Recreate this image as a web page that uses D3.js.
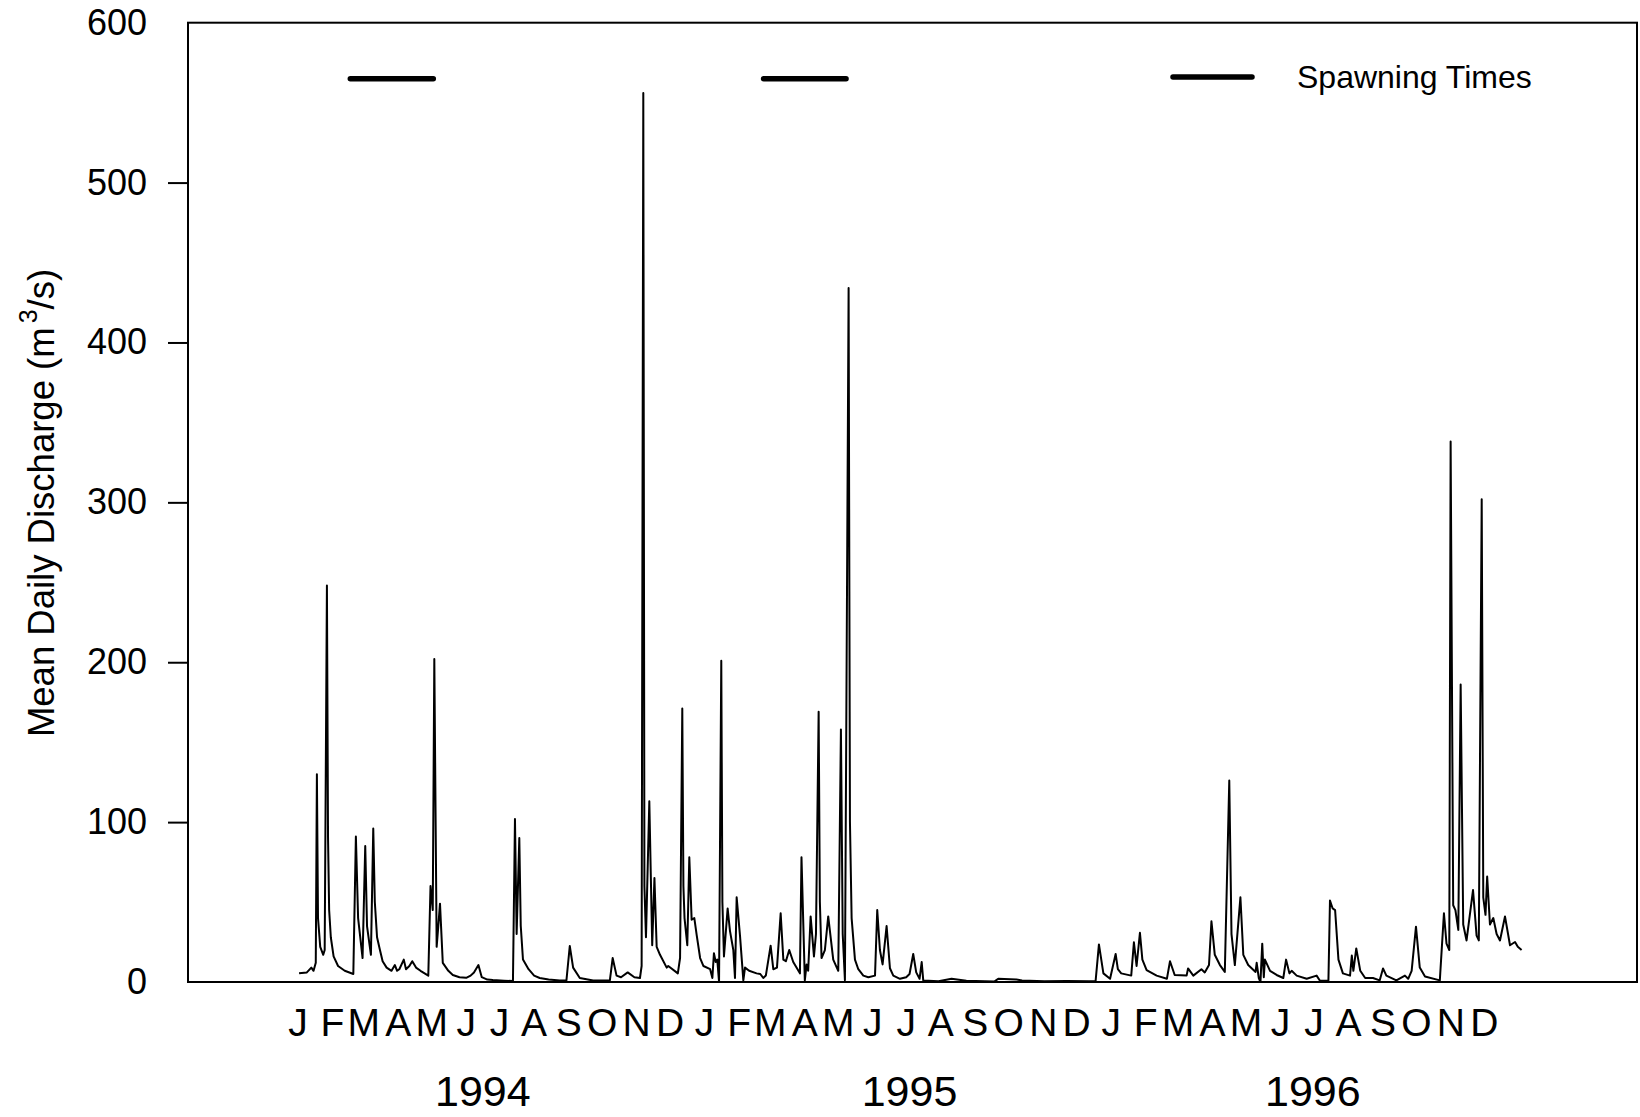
<!DOCTYPE html>
<html>
<head>
<meta charset="utf-8">
<script src="https://cdn.jsdelivr.net/npm/d3@7"></script>
<style>
  body { margin: 0; background: #fff; }
</style>
</head>
<body>
<div id="canvas"></div>
<script>
"use strict"

/* mean daily discharge, [day of year, m3/s] */
let flow1994 = [
  [1, 5.4], [8, 6], [12, 9], [14, 7], [16, 12], [17, 130], [18, 40], [20, 22], [22.7, 17],
  [24, 20], [26, 248], [27, 90], [28, 45], [29.5, 28], [32, 16], [36, 10], [42, 7], [49.7, 5],
  [52, 91], [54, 40], [58, 15], [60.4, 85], [62, 35], [65.5, 17], [67.6, 96], [69, 50],
  [71, 28], [73.6, 20], [76, 13], [79.6, 9], [84, 7], [87, 10.6], [89, 7], [91, 8], [95, 14],
  [97, 8], [100, 10], [102.6, 13], [106, 9], [110, 7], [117, 4], [119, 60], [121, 45],
  [122.4, 202], [124.5, 22], [126, 35], [127.5, 49], [130, 12], [135, 7], [139, 4.4], [145, 3],
  [151, 2.6], [155, 4], [158, 6], [162, 10.6], [165, 3], [170, 1.5], [175, 1.2], [185, 0.8],
  [193, 0.6], [194.8, 102], [196.3, 30], [197.5, 60], [198.7, 90], [200, 35], [202, 14],
  [207, 8], [212, 4], [217, 2.5], [225, 1.5], [235, 1], [241, 1], [244, 22.5], [247, 9],
  [253, 2.5], [265, 1], [280, 1], [282.5, 15], [286, 4], [290, 3], [296, 6], [302, 3],
  [307, 2.5], [308.5, 10], [310, 556], [311, 60], [312.4, 28], [315.4, 113], [318, 23],
  [320, 65], [322, 22], [325, 17], [331, 9], [332.4, 10], [341, 5.4], [343, 15], [345, 171],
  [346, 60], [347, 40], [349.5, 23], [351.3, 78], [353.4, 39], [355.8, 40], [358, 29],
  [361, 15], [364, 10]
];

let flow1995 = [
  [5, 8], [7, 2.5], [8.4, 18], [10, 12.5], [11.4, 14], [13, 0], [15, 201], [16, 50],
  [17.4, 16], [20.7, 46], [22.8, 32], [25.8, 20], [27.3, 2.5], [28.8, 53], [31.8, 29],
  [34.8, 1], [36.3, 9], [40, 7], [46.7, 5.4], [50, 5], [52.7, 2.5], [55, 4], [59.3, 22.7],
  [61.7, 8], [65, 9], [68.3, 43], [70.7, 14], [73, 13], [76, 20], [79.6, 12.5], [85.6, 5.4],
  [87, 78], [90, 1], [91.6, 11], [93, 7], [95.2, 41], [98.2, 16], [100, 30], [102.4, 169],
  [103.5, 50], [105, 15], [108, 20], [111, 41], [115.5, 14], [120, 7], [122.4, 158], [124, 30],
  [126, 1], [129.3, 434], [130.5, 100], [132, 40], [135, 14], [138, 8], [142.5, 4], [147, 3],
  [153, 4], [155, 45], [157.4, 20], [159.8, 11], [163.4, 35], [166.4, 8.6], [169.4, 4],
  [175.4, 2], [181, 3], [184, 5], [187.3, 17.5], [190, 6], [193, 2], [194.9, 12.5], [196.3, 1],
  [210, 0.5], [221.7, 2], [235, 0.8], [260, 0.3], [263.6, 2], [280, 1.5], [285, 1], [305, 0.5],
  [325, 0.6], [345, 0.5], [351, 0.5], [354, 23.5], [358, 5.4], [364, 2]
];

let flow1996 = [
  [4, 17.5], [6, 8], [9, 5.4], [18, 4], [20.4, 24.8], [22.8, 10], [25.8, 30.8], [28, 14],
  [31.8, 7.5], [40.8, 4], [50, 2], [52.8, 13], [57, 4.4], [67.7, 4], [69, 8.5], [73.7, 4],
  [81, 8], [84, 6], [87.8, 10.6], [90, 38], [93, 17], [97.6, 10.6], [102, 6.3], [106, 126],
  [108, 30], [111, 10.6], [116, 53], [118.6, 17], [123, 10.6], [129.6, 6.3], [130.6, 12],
  [132.5, 2.5], [134, 0], [135.6, 24], [137, 3], [138, 14], [142.6, 7], [148.5, 4.4],
  [154.5, 2.5], [157, 14], [160, 5.4], [162, 7], [166.5, 4], [175.5, 2], [184.4, 4],
  [187.4, 0.8], [195, 0.8], [196.4, 51], [198.8, 46], [201, 45], [204, 14], [208, 5.4],
  [214.4, 4], [216, 16.5], [217.4, 7], [220, 21], [223.6, 7], [228, 2.5], [235, 2.5], [241, 1],
  [244, 8.5], [247, 4], [256, 1], [263.7, 4], [266.6, 2], [269.7, 7], [273.6, 34.6], [277, 9],
  [281.7, 3.4], [295, 1], [298.7, 43], [301, 24], [303.5, 20], [304.7, 338], [307, 48],
  [309, 45], [311.6, 32.6], [313.7, 186], [316, 36], [319, 26], [324.8, 57.5], [328, 29],
  [330, 26], [332.6, 302], [334, 53], [336, 42], [337.5, 66], [340, 36], [343, 40], [346, 30],
  [349, 26], [353.5, 41], [358, 23], [362.5, 25], [365, 22], [368.4, 20]
];

/* spawning periods, [year, first day, last day] */
let spawning = [[1994, 47, 121.5], [1995, 53, 127]];
let spawnLevel = 565;

let years = [1994, 1995, 1996];
let yearLabelDays = [166, 184, 181];
let monthLetters = ["J", "F", "M", "A", "M", "J", "J", "A", "S", "O", "N", "D"];
let yTicks = [0, 100, 200, 300, 400, 500, 600];

function dayDate(year, d) {
  return new Date(Date.UTC(year, 0, 1) + d * 86400000);
}

let drawing = d3.select("#canvas")
  .append("svg")
  .attr("width", 1640)
  .attr("height", 1117)
  .style("font-family", "'Liberation Sans', Arial, sans-serif");

let plotLeft = 188, plotRight = 1637, plotTop = 22.7, plotBottom = 982;

let x = d3.scaleUtc()
  .domain([dayDate(1994, -98.7), dayDate(1994, 1202)])
  .range([plotLeft, plotRight]);

let y = d3.scaleLinear()
  .domain([0, 600])
  .range([plotBottom, plotTop]);

/* frame */
drawing.append("rect")
  .attr("x", plotLeft)
  .attr("y", plotTop)
  .attr("width", plotRight - plotLeft)
  .attr("height", plotBottom - plotTop)
  .attr("fill", "none")
  .attr("stroke", "#000")
  .attr("stroke-width", 2);

/* y axis */
let yAxis = drawing.append("g")
  .attr("transform", "translate(" + plotLeft + ",0)")
  .call(d3.axisLeft(y).tickValues(yTicks).tickSize(20).tickPadding(21));

yAxis.select(".domain").remove();
yAxis.selectAll(".tick line")
  .attr("stroke-width", 2)
  .attr("opacity", d => (d === 0 || d === 600) ? 0 : 1);
yAxis.selectAll(".tick text")
  .attr("font-family", "'Liberation Sans', Arial, sans-serif")
  .attr("font-size", 36)
  .attr("fill", "#000");

/* y title */
let yTitle = drawing.append("text")
  .attr("transform", "translate(54,503) rotate(-90)")
  .attr("text-anchor", "middle")
  .attr("font-size", 36.5)
  .attr("fill", "#000");
yTitle.append("tspan").text("Mean Daily Discharge (m");
yTitle.append("tspan").attr("dy", -17).attr("font-size", 25).attr("dx", 4).text("3");
yTitle.append("tspan").attr("dy", 17).text("/s)");

/* month letters and years */
years.forEach(function (yr, i) {
  monthLetters.forEach(function (m, k) {
    drawing.append("text")
      .attr("x", x(new Date(Date.UTC(yr, k, 1))))
      .attr("y", 1036)
      .attr("text-anchor", "middle")
      .attr("font-family", "'Liberation Sans Narrow', 'Arial Narrow', sans-serif")
      .attr("font-size", 39)
      .attr("fill", "#000")
      .text(m);
  });
  drawing.append("text")
    .attr("x", x(dayDate(yr, yearLabelDays[i])))
    .attr("y", 1106)
    .attr("text-anchor", "middle")
    .attr("font-size", 43)
    .attr("fill", "#000")
    .text(yr);
});

/* discharge line */
let series = [];
[[1994, flow1994], [1995, flow1995], [1996, flow1996]].forEach(function (s) {
  s[1].forEach(function (p) {
    series.push({ date: dayDate(s[0], p[0]), value: p[1] });
  });
});

let line = d3.line()
  .x(d => x(d.date))
  .y(d => y(d.value));

drawing.append("path")
  .datum(series)
  .attr("d", line)
  .attr("fill", "none")
  .attr("stroke", "#000")
  .attr("stroke-width", 2)
  .attr("stroke-linejoin", "round");

/* spawning bars */
drawing.selectAll(".spawn")
  .data(spawning)
  .enter()
  .append("line")
  .attr("class", "spawn")
  .attr("x1", d => x(dayDate(d[0], d[1])))
  .attr("x2", d => x(dayDate(d[0], d[2])))
  .attr("y1", y(spawnLevel))
  .attr("y2", y(spawnLevel))
  .attr("stroke", "#000")
  .attr("stroke-width", 5.5)
  .attr("stroke-linecap", "round");

/* legend */
drawing.append("line")
  .attr("x1", 1173)
  .attr("x2", 1252)
  .attr("y1", 77)
  .attr("y2", 77)
  .attr("stroke", "#000")
  .attr("stroke-width", 5.5)
  .attr("stroke-linecap", "round");

drawing.append("text")
  .attr("x", 1297)
  .attr("y", 88)
  .attr("font-size", 32)
  .attr("fill", "#000")
  .text("Spawning Times");
</script>
</body>
</html>
